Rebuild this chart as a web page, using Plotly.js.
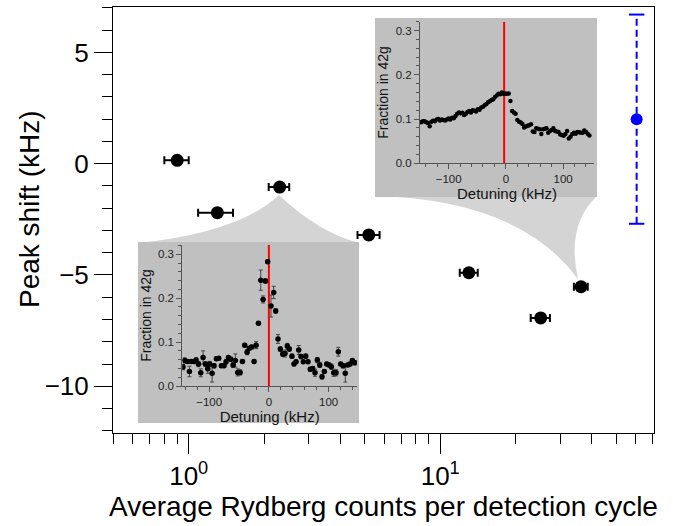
<!DOCTYPE html>
<html>
<head>
<meta charset="utf-8">
<script src="https://cdn.plot.ly/plotly-3.0.1.min.js"></script>
<style>html,body{margin:0;padding:0;background:#fff;}#chart{width:673px;height:526px;}</style>
</head>
<body>
<div id="chart"></div>
<script>
// ---------- main panel data ----------
const countsX      = [0.90, 1.30, 2.30, 5.20, 13.0, 36.3, 25.1];
const countsErrP   = [0.10, 0.20, 0.21, 0.54, 1.10, 2.30, 2.20];
const countsErrM   = [0.10, 0.21, 0.22, 0.51, 1.04, 2.30, 2.20];
const peakShift    = [0.15, -2.2, -1.05, -3.2, -4.9, -5.53, -6.93];

const refX   = [60.4];
const refY   = [2.0];
const refErr = [4.7];

const xMajorTicks = [1, 10];
const xMajorText  = ['10<sup>0</sup>', '10<sup>1</sup>'];
const xMinorTicks = [0.5,0.6,0.7,0.8,0.9,2,3,4,5,6,7,8,9,20,30,40,50,60,70];
const yMajorTicks = [-10, -5, 0, 5];

// ---------- upper inset (high counts) ----------
const upDet = [-148,-145,-142,-139,-136,-133,-130,-127,-124,-121,-118,-115,-112,-109,-106,-103,-100,-97,-94,-91,-88,-85,-82,-79,-76,-73,-70,-67,-64,-61,-58,-55,-52,-49,-46,-43,-40,-37,-34,-31,-28,-25,-22,-19,-16,-13,-10,-7,-4,-1,2,5,8,11,14,17,20,23,26,29,32,35,38,41,44,47,50,53,56,59,62,65,68,71,74,77,80,83,86,89,92,95,98,101,104,107,110,113,116,119,122,125,128,131,134,137,140,143,146];
const upFrac = [0.093,0.095,0.095,0.093,0.091,0.084,0.094,0.096,0.095,0.099,0.100,0.097,0.099,0.098,0.097,0.099,0.101,0.099,0.103,0.102,0.107,0.112,0.115,0.113,0.114,0.109,0.112,0.116,0.118,0.115,0.120,0.119,0.117,0.122,0.121,0.126,0.128,0.131,0.134,0.138,0.140,0.143,0.145,0.150,0.153,0.157,0.156,0.160,0.157,0.158,0.157,0.158,0.141,0.118,0.115,0.112,0.098,0.094,0.092,0.089,0.081,0.083,0.085,0.086,0.088,0.072,0.071,0.079,0.078,0.077,0.066,0.077,0.078,0.079,0.069,0.073,0.075,0.079,0.073,0.072,0.071,0.065,0.064,0.062,0.066,0.073,0.056,0.060,0.066,0.069,0.067,0.071,0.070,0.069,0.069,0.074,0.071,0.067,0.063];
const upRedLine = -3;

// ---------- lower inset (low counts) ----------
const loDet = [-143.8,-140.9,-136.4,-133.1,-129.7,-125.3,-121.9,-118.0,-114.1,-110.2,-106.3,-102.4,-99.1,-95.1,-91.8,-87.9,-84.0,-79.5,-75.1,-71.7,-67.8,-63.9,-60.0,-56.1,-52.2,-48.2,-44.3,-40.4,-36.5,-32.6,-28.7,-24.8,-21.4,-17.5,-13.6,-9.7,-5.8,-2.0,3.6,8.1,11.4,15.3,19.2,23.2,27.0,30.9,34.2,38.7,42.1,45.5,50.0,53.8,57.7,61.7,65.6,69.4,73.4,77.3,81.1,85.2,89.0,92.9,96.9,100.7,104.6,108.6,112.5,116.3,120.3,124.2,128.0,132.0,136.0,139.8,143.8];
const loFrac = [0.043,0.058,0.056,0.033,0.056,0.056,0.059,0.050,0.030,0.065,0.050,0.039,0.050,0.029,0.046,0.062,0.063,0.046,0.046,0.055,0.065,0.061,0.048,0.058,0.031,0.031,0.056,0.093,0.077,0.086,0.089,0.056,0.093,0.143,0.241,0.197,0.239,0.283,0.182,0.213,0.171,0.107,0.084,0.073,0.074,0.091,0.084,0.068,0.050,0.055,0.082,0.067,0.055,0.068,0.055,0.038,0.040,0.030,0.059,0.048,0.021,0.033,0.050,0.048,0.044,0.030,0.030,0.078,0.050,0.046,0.029,0.048,0.050,0.058,0.053];
const loErr  = [0.006,0.006,0.004,0.012,0.004,0.004,0.005,0.006,0.009,0.015,0.005,0.010,0.006,0.020,0.005,0.004,0.004,0.004,0.004,0.005,0.004,0.005,0.006,0.015,0.008,0.006,0.004,0.004,0.006,0.004,0.004,0.004,0.008,0.004,0.023,0.008,0.005,0.004,0.025,0.014,0.005,0.010,0.005,0.006,0.008,0.006,0.005,0.005,0.004,0.004,0.010,0.005,0.004,0.005,0.004,0.005,0.004,0.008,0.006,0.006,0.005,0.004,0.004,0.004,0.006,0.008,0.007,0.010,0.004,0.005,0.020,0.004,0.004,0.004,0.005];
const loRedLine = 0;

const insetTicks = [-100, 0, 100];
const fracTicks  = [0, 0.1, 0.2, 0.3];

// ---------- layout helpers (pixel -> paper) ----------
const M = {l:113, r:19, t:7, b:93};
const PW = 673 - M.l - M.r, PH = 526 - M.t - M.b;
const px = x => (x - M.l) / PW;
const py = y => (526 - M.b - y) / PH;
const pt = (x, y) => px(x).toFixed(4) + ',' + py(y).toFixed(4);

const FONT = 'Liberation Sans, Arial, sans-serif';
const insetGray = '#c0c0c0';
const funnelGray = '#d4d4d4';
const axGray = '#555555';

const traces = [
  { x: countsX, y: peakShift, type: 'scatter', mode: 'markers', xaxis: 'x', yaxis: 'y',
    marker: {color: '#000', size: 13},
    error_x: {type: 'data', array: countsErrP, arrayminus: countsErrM, color: '#000', thickness: 2, width: 4},
    showlegend: false, hoverinfo: 'skip' },
  { x: [refX[0], refX[0]], y: [refY[0] - refErr[0], refY[0] + refErr[0]], type: 'scatter', mode: 'lines',
    line: {color: '#0000ff', width: 2, dash: '7px,4px'}, showlegend: false, hoverinfo: 'skip' },
  { x: [refX[0], refX[0]], y: [refY[0] - refErr[0], refY[0] + refErr[0]], type: 'scatter', mode: 'markers',
    marker: {symbol: 'line-ew', size: 11, line: {color: '#0000ff', width: 2}}, showlegend: false, hoverinfo: 'skip' },
  { x: refX, y: refY, type: 'scatter', mode: 'markers', marker: {color: '#0000ff', size: 12},
    showlegend: false, hoverinfo: 'skip' },
  { x: upDet, y: upFrac, type: 'scatter', mode: 'markers', xaxis: 'x2', yaxis: 'y2',
    marker: {color: '#000', size: 4.5}, showlegend: false, hoverinfo: 'skip' },
  { x: loDet, y: loFrac, type: 'scatter', mode: 'markers', xaxis: 'x3', yaxis: 'y3',
    marker: {color: '#000', size: 5.5},
    error_y: {type: 'data', array: loErr, color: '#444', thickness: 1, width: 2},
    showlegend: false, hoverinfo: 'skip' }
];

const insetX = (domain, range, anchor) => ({
  domain: domain, range: range, anchor: anchor,
  tickmode: 'array', tickvals: insetTicks, ticks: 'outside', ticklen: 5, tickwidth: 1, tickcolor: axGray,
  minor: {dtick: 20, tick0: 0, ticks: 'outside', ticklen: 3, tickcolor: axGray},
  showline: true, linecolor: axGray, linewidth: 1, showgrid: false, zeroline: false,
  tickfont: {family: FONT, size: 11.5, color: '#222'},
  title: {text: 'Detuning (kHz)', font: {family: FONT, size: 15, color: '#111'}, standoff: 1}
});
const insetY = (domain, range, anchor) => ({
  domain: domain, range: range, anchor: anchor,
  tickmode: 'array', tickvals: fracTicks, tickformat: '.1f', ticks: 'outside', ticklen: 5, tickwidth: 1, tickcolor: axGray,
  minor: {dtick: 0.02, tick0: 0, ticks: 'outside', ticklen: 3, tickcolor: axGray},
  showline: true, linecolor: axGray, linewidth: 1, showgrid: false, zeroline: false,
  tickfont: {family: FONT, size: 11.5, color: '#222'},
  title: {text: 'Fraction in 42g', font: {family: FONT, size: 14, color: '#111'}, standoff: 3}
});

const layout = {
  width: 673, height: 526,
  margin: {l: M.l, r: M.r, t: M.t, b: M.b, pad: 0},
  paper_bgcolor: '#ffffff', plot_bgcolor: 'rgba(0,0,0,0)',
  font: {family: FONT, color: '#000'},
  showlegend: false,
  xaxis: {
    type: 'log', range: [Math.log10(0.5), Math.log10(70.8)],
    tickmode: 'array', tickvals: xMajorTicks, ticktext: xMajorText,
    ticks: 'outside', ticklen: 20, tickwidth: 1, tickcolor: '#000',
    minor: {tickmode: 'array', tickvals: xMinorTicks, ticks: 'outside', ticklen: 10, tickwidth: 1, tickcolor: '#000'},
    showline: true, mirror: true, linecolor: '#000', linewidth: 1,
    showgrid: false, zeroline: false,
    tickfont: {family: FONT, size: 26},
    title: {text: 'Average Rydberg counts per detection cycle', font: {family: FONT, size: 28}, standoff: 3}
  },
  yaxis: {
    range: [-12.1, 7.04],
    tickmode: 'array', tickvals: yMajorTicks,
    ticks: 'outside', ticklen: 18, tickwidth: 1, tickcolor: '#000',
    minor: {dtick: 1, tick0: 0, ticks: 'outside', ticklen: 10, tickwidth: 1, tickcolor: '#000'},
    showline: true, mirror: true, linecolor: '#000', linewidth: 1,
    showgrid: false, zeroline: false,
    tickfont: {family: FONT, size: 26}
  },
  annotations: [
    {text: 'Peak shift (kHz)', xref: 'paper', yref: 'paper', x: px(30), y: py(209),
     xanchor: 'center', yanchor: 'middle', textangle: -90, showarrow: false,
     font: {family: FONT, size: 28, color: '#000'}}
  ],
  xaxis2: insetX([px(420), px(594)], [-150, 154], 'y2'),
  yaxis2: insetY([py(163.3), py(21.7)], [0, 0.32], 'x2'),
  xaxis3: insetX([px(182.3), px(357)], [-145, 147.6], 'y3'),
  yaxis3: insetY([py(386), py(245)], [0, 0.321], 'x3'),
  shapes: [
    // upper inset funnel + box
    {type: 'path', xref: 'paper', yref: 'paper', layer: 'below', fillcolor: funnelGray, line: {width: 0},
     path: 'M ' + pt(376,196) + ' Q ' + pt(520,200) + ' ' + pt(578,279) + ' Q ' + pt(566,225) + ' ' + pt(597,196) + ' Z'},
    {type: 'rect', xref: 'paper', yref: 'paper', layer: 'below', fillcolor: insetGray, line: {width: 0},
     x0: px(375), x1: px(597), y0: py(197), y1: py(18)},
    // lower inset funnel + box
    {type: 'path', xref: 'paper', yref: 'paper', layer: 'below', fillcolor: funnelGray, line: {width: 0},
     path: 'M ' + pt(138,243) + ' Q ' + pt(240,232) + ' ' + pt(279,195) + ' Q ' + pt(318,232) + ' ' + pt(359,243) + ' Z'},
    {type: 'rect', xref: 'paper', yref: 'paper', layer: 'below', fillcolor: insetGray, line: {width: 0},
     x0: px(138), x1: px(359), y0: py(423), y1: py(242)},
    // red reference lines
    {type: 'line', xref: 'x2', yref: 'y2', layer: 'below', x0: upRedLine, x1: upRedLine, y0: 0, y1: 0.32,
     line: {color: '#ff0000', width: 2}},
    {type: 'line', xref: 'x3', yref: 'y3', layer: 'below', x0: loRedLine, x1: loRedLine, y0: 0, y1: 0.321,
     line: {color: '#ff0000', width: 2}}
  ]
};

Plotly.newPlot('chart', traces, layout, {displayModeBar: false, staticPlot: true});
</script>
</body>
</html>
